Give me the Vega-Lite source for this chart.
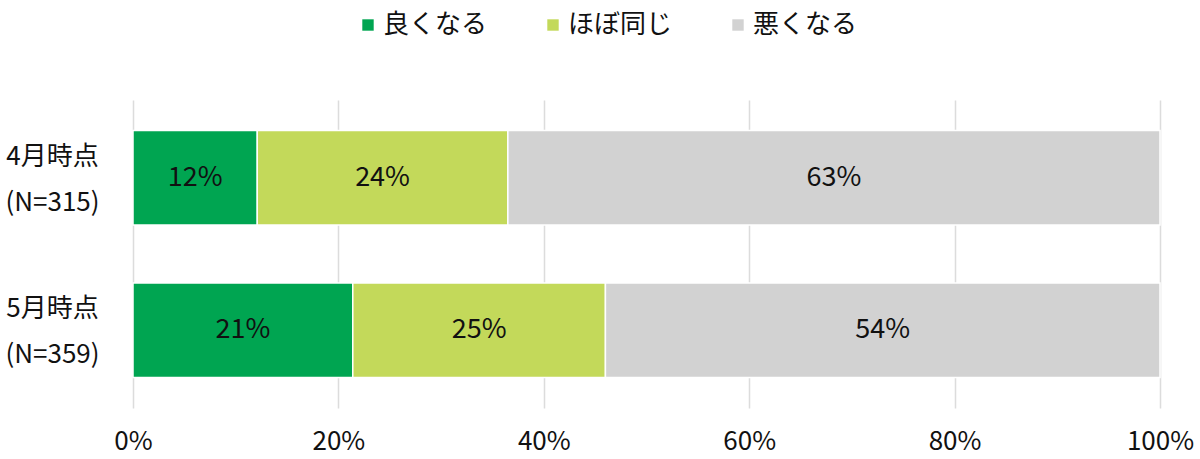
{
  "$schema": "https://vega.github.io/schema/vega-lite/v6.json",
  "width": 1027,
  "height": 308,
  "autosize": {"type": "none"},
  "padding": {"left": 133, "top": 100, "right": 40, "bottom": 51},
  "background": "white",
  "config": {
    "font": "Noto Sans CJK JP",
    "view": {"stroke": null}
  },
  "data": {
    "values": [
      {"period": "4月時点\n(N=315)", "answer": "良くなる", "k": 1, "pct": 12.1, "label": "12%"},
      {"period": "4月時点\n(N=315)", "answer": "ほぼ同じ", "k": 2, "pct": 24.4, "label": "24%"},
      {"period": "4月時点\n(N=315)", "answer": "悪くなる", "k": 3, "pct": 63.5, "label": "63%"},
      {"period": "5月時点\n(N=359)", "answer": "良くなる", "k": 1, "pct": 21.4, "label": "21%"},
      {"period": "5月時点\n(N=359)", "answer": "ほぼ同じ", "k": 2, "pct": 24.6, "label": "25%"},
      {"period": "5月時点\n(N=359)", "answer": "悪くなる", "k": 3, "pct": 54.0, "label": "54%"}
    ]
  },
  "encoding": {
    "y": {
      "field": "period",
      "type": "nominal",
      "title": null,
      "scale": {"paddingInner": 0.38, "paddingOuter": 0.2},
      "axis": {
        "ticks": false,
        "domain": false,
        "labelAlign": "center",
        "labelPadding": 81,
        "labelOffset": -21,
        "labelFontSize": 26,
        "labelColor": "#111111",
        "labelLineHeight": 46,
        "labelExpr": "split(datum.label, '\\n')"
      }
    },
    "x": {
      "field": "pct",
      "type": "quantitative",
      "stack": "zero",
      "title": null,
      "scale": {"domain": [0, 100]},
      "axis": {
        "values": [0, 20, 40, 60, 80, 100],
        "labelExpr": "datum.value + '%'",
        "labelFontSize": 26,
        "labelColor": "#111111",
        "labelPadding": 20,
        "labelFlush": false,
        "ticks": false,
        "domain": false,
        "grid": true,
        "gridColor": "#DCDCDC",
        "gridWidth": 1.5
      }
    },
    "order": {"field": "k", "type": "quantitative"}
  },
  "layer": [
    {
      "mark": {"type": "bar", "stroke": "white", "strokeWidth": 1.5},
      "encoding": {
        "color": {
          "field": "answer",
          "type": "nominal",
          "sort": ["良くなる", "ほぼ同じ", "悪くなる"],
          "scale": {
            "domain": ["良くなる", "ほぼ同じ", "悪くなる"],
            "range": ["#00A551", "#C3D95A", "#D2D2D2"]
          },
          "legend": {
            "title": null,
            "orient": "none",
            "direction": "horizontal",
            "legendX": 222,
            "legendY": -88,
            "symbolType": "square",
            "symbolSize": 130,
            "symbolStrokeWidth": 0,
            "labelFontSize": 26,
            "labelColor": "#111111",
            "columnPadding": 52,
            "labelOffset": 2
          }
        }
      }
    },
    {
      "mark": {"type": "text", "fontSize": 27, "color": "#111111"},
      "encoding": {
        "x": {"field": "pct", "type": "quantitative", "stack": "zero", "bandPosition": 0.5},
        "text": {"field": "label", "type": "nominal"}
      }
    }
  ]
}
